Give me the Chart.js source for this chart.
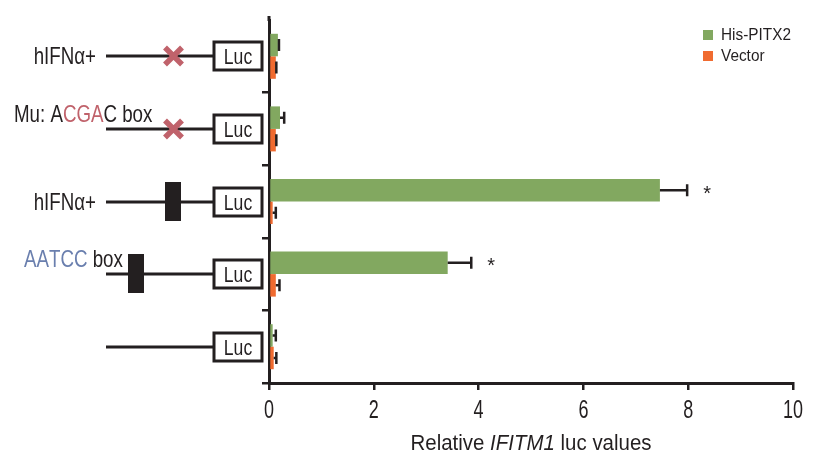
<!DOCTYPE html>
<html>
<head>
<meta charset="utf-8">
<script src="https://cdn.jsdelivr.net/npm/chart.js@4"></script>
<style>
  html, body { margin: 0; padding: 0; background: #fff; }
  #wrap { width: 814px; height: 455px; position: relative; }
</style>
</head>
<body>
<div id="wrap"><canvas id="lucChart"></canvas></div>
<script>
// values
const categories = ['hIFNα+', 'Mu: ACGAC box', 'hIFNα+', 'AATCC box', ''];
const seriesNames = ['His-PITX2', 'Vector'];
const pitx2Values = [0.17, 0.21, 7.46, 3.41, 0.07];
const pitx2Errors = [0.02, 0.08, 0.52, 0.45, 0.06];
const vectorValues = [0.13, 0.13, 0.07, 0.13, 0.09];
const vectorErrors = [0.01, 0.01, 0.06, 0.07, 0.05];
const significance = ['', '', '*', '*', ''];
const xTicks = [0, 2, 4, 6, 8, 10];

const GREEN = '#82a860';
const ORANGE = '#f06b30';
const INK = '#231f20';
const RED = '#c0626b';
const BLUE = '#6a7fae';
const FONT = '"Liberation Sans", Arial, sans-serif';

// coloured parts of the construct labels: [row, start, end, colour]
const labelColors = [[1, 5, 8, RED], [3, 0, 5, BLUE]];
// element on each construct: 'x' = mutated site, 'box' = intact site
const siteMarks = ['x', 'x', 'box', 'box', ''];

// the original uses a condensed face, so squeeze the text sideways
function narrowText(ctx, text, x, y, font, sx, align) {
    ctx.save();
    ctx.font = font;
    ctx.textAlign = align || 'left';
    ctx.translate(x, y);
    ctx.scale(sx, 1);
    ctx.fillText(text, 0, 0);
    const w = ctx.measureText(text).width * sx;
    ctx.restore();
    return w;
}

function drawErrorBars(chart) {
    const ctx = chart.ctx;
    const xs = chart.scales.x;
    const errs = [pitx2Errors, vectorErrors];
    ctx.save();
    ctx.strokeStyle = INK;
    ctx.lineWidth = 2.5;
    chart.data.datasets.forEach((ds, d) => {
        const meta = chart.getDatasetMeta(d);
        meta.data.forEach((bar, i) => {
            const x1 = bar.x;
            const x2 = xs.getPixelForValue(ds.data[i] + errs[d][i]);
            ctx.beginPath();
            ctx.moveTo(x1, bar.y);
            ctx.lineTo(x2, bar.y);
            ctx.moveTo(x2, bar.y - 6);
            ctx.lineTo(x2, bar.y + 6);
            ctx.stroke();
            if (d === 0 && significance[i]) {
                ctx.fillStyle = INK;
                ctx.textBaseline = 'middle';
                narrowText(ctx, significance[i], x2 + 20, bar.y + 4, '20px ' + FONT, 1, 'center');
            }
        });
    });
    ctx.restore();
}

function drawConstructs(chart) {
    const ctx = chart.ctx;
    const ys = chart.scales.y;
    ctx.save();
    // the y axis line runs a little above the plot area
    ctx.strokeStyle = INK;
    ctx.lineWidth = 3;
    ctx.beginPath();
    ctx.moveTo(chart.chartArea.left, chart.chartArea.top - 4);
    ctx.lineTo(chart.chartArea.left, chart.chartArea.top + 1);
    ctx.stroke();
    categories.forEach((label, i) => {
        const y = Math.round(ys.getPixelForValue(i));
        // backbone
        ctx.strokeStyle = INK;
        ctx.lineWidth = 3;
        ctx.beginPath();
        ctx.moveTo(106, y);
        ctx.lineTo(214, y);
        ctx.stroke();
        // Luc box
        ctx.fillStyle = '#fff';
        ctx.fillRect(214, y - 14, 48, 28);
        ctx.strokeRect(214, y - 14, 48, 28);
        ctx.fillStyle = INK;
        ctx.textBaseline = 'alphabetic';
        narrowText(ctx, 'Luc', 238, y + 8, '22px ' + FONT, 0.8, 'center');
        // site
        if (siteMarks[i] === 'x') {
            ctx.strokeStyle = RED;
            ctx.lineWidth = 5.5;
            ctx.beginPath();
            ctx.moveTo(165, y - 8.5); ctx.lineTo(182, y + 8.5);
            ctx.moveTo(182, y - 8.5); ctx.lineTo(165, y + 8.5);
            ctx.stroke();
        } else if (siteMarks[i] === 'box') {
            const bx = i === 2 ? 165 : 128;
            ctx.fillStyle = INK;
            ctx.fillRect(bx, y - 20, 16, 39);
        }
        // label
        if (!label) return;
        const font = '24px ' + FONT;
        const sx = 0.78;
        ctx.font = font;
        let x, by;
        if (i === 0 || i === 2) {
            x = 96 - ctx.measureText(label).width * sx;
            by = y + 8;
        } else {
            x = i === 1 ? 14 : 24;
            by = y - 7;
        }
        const ranges = labelColors.filter(r => r[0] === i);
        for (let c = 0; c < label.length; c++) {
            const hit = ranges.find(r => c >= r[1] && c < r[2]);
            ctx.fillStyle = hit ? hit[3] : INK;
            x += narrowText(ctx, label[c], x, by, font, sx, 'left');
        }
    });
    ctx.restore();
}

function drawTextParts(chart) {
    const ctx = chart.ctx;
    const xs = chart.scales.x;
    ctx.save();
    ctx.fillStyle = INK;
    // x tick labels at the scale's own positions
    ctx.textBaseline = 'alphabetic';
    xTicks.forEach(v => {
        narrowText(ctx, String(v), xs.getPixelForValue(v), 418, '25px ' + FONT, 0.72, 'center');
    });
    // legend
    ctx.textBaseline = 'middle';
    chart.data.datasets.forEach((ds, d) => {
        const y = 35 + d * 21;
        ctx.fillStyle = ds.backgroundColor;
        ctx.fillRect(703, y - 5, 10, 10);
        ctx.fillStyle = INK;
        narrowText(ctx, ds.label, 721, y + 1, '16px ' + FONT, 0.96, 'left');
    });
    // axis title with italic gene name
    const parts = [['Relative ', ''], ['IFITM1', 'italic '], [' luc values', '']];
    const sx = 0.93;
    let total = 0;
    parts.forEach(p => { ctx.font = p[1] + '22px ' + FONT; total += ctx.measureText(p[0]).width * sx; });
    let x = (xs.left + xs.right) / 2 - total / 2;
    ctx.textBaseline = 'alphabetic';
    parts.forEach(p => {
        x += narrowText(ctx, p[0], x, 450, p[1] + '22px ' + FONT, sx, 'left');
    });
    ctx.restore();
}

const extras = {
    id: 'extras',
    afterDatasetsDraw(chart) { drawErrorBars(chart); },
    afterDraw(chart) { drawConstructs(chart); drawTextParts(chart); }
};

const hideEnds = c => (c.index === 0 || c.index === categories.length ? 'rgba(0,0,0,0)' : INK);

new Chart(document.getElementById('lucChart'), {
    type: 'bar',
    data: {
        labels: categories,
        datasets: [
            { label: seriesNames[0], data: pitx2Values, backgroundColor: GREEN },
            { label: seriesNames[1], data: vectorValues, backgroundColor: ORANGE }
        ]
    },
    options: {
        indexAxis: 'y',
        responsive: true,
        maintainAspectRatio: false,
        animation: false,
        categoryPercentage: 0.62,
        barPercentage: 1.0,
        layout: { padding: { top: 20, right: 21, bottom: 0, left: 0 } },
        plugins: { legend: { display: false }, tooltip: { enabled: false } },
        scales: {
            x: {
                min: 0,
                max: 10,
                afterBuildTicks: s => { s.ticks = xTicks.map(v => ({ value: v })); },
                afterFit: s => { s.height = 72; },
                border: { display: true, color: INK, width: 3 },
                grid: { drawOnChartArea: false, drawTicks: true, tickLength: 7, color: INK, lineWidth: 2.5 },
                ticks: { callback: () => '' }
            },
            y: {
                afterFit: s => { s.width = 269; },
                border: { display: true, color: INK, width: 3 },
                grid: { offset: true, drawOnChartArea: false, drawTicks: true, tickLength: 7, color: hideEnds, lineWidth: 2.5 },
                ticks: { callback: () => '' }
            }
        }
    },
    plugins: [extras]
});
</script>
</body>
</html>
